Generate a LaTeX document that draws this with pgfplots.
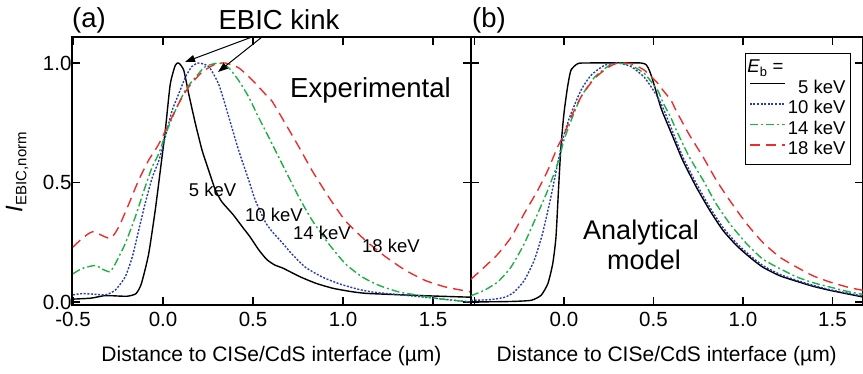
\documentclass[border=0pt]{standalone}
\usepackage{fontspec}
\setmainfont{Liberation Sans}
\usepackage{pgfplots}
\pgfplotsset{compat=1.18}
\usetikzlibrary{arrows.meta}

\definecolor{cblue}{RGB}{40,60,170}
\definecolor{cgreen}{RGB}{30,175,70}
\definecolor{cred}{RGB}{235,45,45}
\newcommand{\lf}{\fontsize{18.5}{20}\selectfont}

\pgfplotsset{
  common/.style={
    scale only axis, height=268pt,
    ymin=-0.0126, ymax=1.1088,
    ytick={0,0.5,1},
    xtick={-0.5,0,0.5,1,1.5},
    tick align=inside,
    major tick length=8pt,
    axis line style={line width=1.2pt},
    tick style={line width=1.2pt, black},
    tick label style={font=\fontsize{20.5}{24}\selectfont},
    xticklabel style={yshift=-4pt},
    yticklabel style={xshift=3pt},
    xlabel={Distance to CISe/CdS interface (µm)},
    xlabel style={font=\fontsize{21}{24}\selectfont, at={(axis description cs:0.5,0)}, anchor=center, yshift=-51pt},
    clip=true,
  },
  s5/.style={black, line width=1.4pt, smooth, tension=0.35},
  s10/.style={cblue, line width=1.4pt, dash pattern=on 2pt off 1.6pt, smooth, tension=0.35},
  s14/.style={cgreen, line width=1.4pt, dash pattern=on 8pt off 3pt on 2pt off 3pt, smooth, tension=0.35},
  s18/.style={cred, line width=1.4pt, dash pattern=on 10pt off 6pt, smooth, tension=0.35},
}

\begin{document}
\begin{tikzpicture}
\path[use as bounding box] (0pt,0pt) rectangle (863pt,374pt);

% ---------------- Panel (a) ----------------
\begin{axis}[common,
  at={(72pt,69pt)}, anchor=south west, width=399pt,
  xmin=-0.5056, xmax=1.711,
  xticklabels={-0.5,0.0,0.5,1.0,1.5},
  yticklabels={0.0,0.5,1.0},
]
\addplot[s5] coordinates {
(-0.5,0.012) (-0.4,0.016) (-0.33,0.026) (-0.28,0.026) (-0.2,0.024) (-0.15,0.035) (-0.12,0.077) (-0.08,0.20) (-0.043,0.385) (-0.015,0.55) (0.013,0.72) (0.04,0.91) (0.068,0.99) (0.087,1.0) (0.115,0.97) (0.143,0.87) (0.18,0.746) (0.217,0.635) (0.254,0.55) (0.29,0.47) (0.326,0.42) (0.39,0.365) (0.44,0.315) (0.483,0.273) (0.53,0.22) (0.576,0.178) (0.62,0.155) (0.668,0.141) (0.76,0.106) (0.85,0.078) (0.946,0.057) (1.05,0.043) (1.13,0.036) (1.32,0.03) (1.5,0.025) (1.71,0.02)
};
\addplot[s10] coordinates {
(-0.5,0.03) (-0.45,0.035) (-0.39,0.033) (-0.32,0.03) (-0.265,0.05) (-0.21,0.105) (-0.17,0.19) (-0.135,0.30) (-0.1,0.41) (-0.06,0.52) (-0.024,0.59) (0.013,0.69) (0.05,0.80) (0.087,0.87) (0.124,0.94) (0.16,0.985) (0.198,1.0) (0.254,0.985) (0.31,0.91) (0.365,0.775) (0.42,0.635) (0.476,0.51) (0.513,0.425) (0.568,0.335) (0.606,0.295) (0.66,0.25) (0.717,0.20) (0.79,0.146) (0.883,0.105) (0.976,0.077) (1.07,0.056) (1.16,0.042) (1.346,0.028) (1.53,0.014) (1.71,0.0)
};
\addplot[s14] coordinates {
(-0.5,0.118) (-0.45,0.14) (-0.376,0.153) (-0.33,0.135) (-0.294,0.127) (-0.265,0.16) (-0.21,0.244) (-0.154,0.356) (-0.1,0.48) (-0.06,0.565) (-0.024,0.62) (0.013,0.70) (0.068,0.80) (0.124,0.886) (0.18,0.94) (0.235,0.985) (0.31,1.0) (0.365,0.98) (0.42,0.927) (0.476,0.858) (0.53,0.774) (0.587,0.69) (0.68,0.55) (0.754,0.44) (0.83,0.34) (0.92,0.244) (1.013,0.16) (1.106,0.105) (1.198,0.07) (1.31,0.042) (1.42,0.028) (1.57,0.01) (1.71,0.0)
};
\addplot[s18] coordinates {
(-0.5,0.23) (-0.45,0.265) (-0.39,0.294) (-0.294,0.266) (-0.246,0.314) (-0.19,0.41) (-0.135,0.51) (-0.08,0.593) (-0.024,0.66) (0.032,0.746) (0.087,0.83) (0.143,0.90) (0.217,0.962) (0.29,0.995) (0.346,1.0) (0.42,0.98) (0.494,0.93) (0.568,0.87) (0.606,0.84) (0.68,0.746) (0.754,0.65) (0.828,0.55) (0.92,0.44) (1.013,0.34) (1.124,0.258) (1.235,0.19) (1.346,0.133) (1.457,0.09) (1.568,0.063) (1.71,0.042)
};
\end{axis}

% ---------------- Panel (b) ----------------
\begin{axis}[common,
  at={(471pt,69pt)}, anchor=south west, width=391.5pt,
  xmin=-0.5196, xmax=1.668,
  xticklabels={,0.0,0.5,1.0,1.5},
  yticklabels={},
  legend cell align=left,
  legend style={at={(rel axis cs:0.700,0.940)}, anchor=north west,
    draw=black, line width=1pt, inner xsep=3.5pt, inner ysep=4pt,
    row sep=0pt,
    nodes={font=\lf, inner sep=1.5pt, text height=13.5pt, text depth=4pt}},
  legend image code/.code={\draw[#1] (0pt,5pt) -- (35pt,5pt);},
]
\addlegendimage{empty legend}
\addlegendentry{\hspace*{-41pt}\lf\textit{E}\textsubscript{b} =\rule[-7pt]{0pt}{7pt}}
\addplot[s5] coordinates {
(-0.52,0.0) (-0.3,0.002) (-0.184,0.007) (-0.128,0.028) (-0.09,0.077) (-0.063,0.16) (-0.045,0.27) (-0.03,0.48) (-0.017,0.65) (0.0,0.79) (0.02,0.90) (0.039,0.97) (0.076,0.997) (0.12,1.0) (0.43,1.0) (0.47,0.98) (0.495,0.93) (0.54,0.816) (0.553,0.79) (0.609,0.69) (0.665,0.59) (0.74,0.48) (0.814,0.384) (0.888,0.30) (0.963,0.237) (1.037,0.188) (1.11,0.146) (1.205,0.11) (1.298,0.087) (1.39,0.066) (1.484,0.049) (1.596,0.032) (1.67,0.021)
};
\addlegendentry{\makebox[58.5pt][r]{\lf 5 keV}}
\addplot[s10] coordinates {
(-0.52,0.007) (-0.41,0.01) (-0.33,0.02) (-0.278,0.042) (-0.222,0.09) (-0.166,0.175) (-0.12,0.286) (-0.073,0.44) (-0.035,0.58) (0.0,0.70) (0.04,0.79) (0.095,0.886) (0.15,0.948) (0.225,0.99) (0.30,1.0) (0.374,0.985) (0.449,0.94) (0.523,0.858) (0.56,0.8) (0.598,0.73) (0.665,0.605) (0.74,0.495) (0.814,0.397) (0.888,0.312) (0.963,0.247) (1.037,0.196) (1.11,0.153) (1.205,0.116) (1.298,0.091) (1.39,0.07) (1.484,0.052) (1.596,0.035) (1.67,0.025)
};
\addlegendentry{\makebox[58.5pt][r]{\lf 10 keV}}
\addplot[s14] coordinates {
(-0.52,0.026) (-0.445,0.049) (-0.37,0.084) (-0.296,0.146) (-0.222,0.244) (-0.147,0.37) (-0.091,0.467) (-0.035,0.58) (0.0,0.677) (0.04,0.76) (0.095,0.858) (0.17,0.94) (0.244,0.985) (0.30,1.0) (0.374,0.99) (0.449,0.956) (0.523,0.886) (0.553,0.835) (0.598,0.77) (0.627,0.72) (0.70,0.607) (0.777,0.51) (0.851,0.41) (0.926,0.328) (1.02,0.244) (1.11,0.18) (1.205,0.14) (1.3,0.105) (1.39,0.081) (1.484,0.063) (1.596,0.042) (1.67,0.032)
};
\addlegendentry{\makebox[58.5pt][r]{\lf 14 keV}}
\addplot[s18] coordinates {
(-0.52,0.095) (-0.445,0.146) (-0.37,0.20) (-0.296,0.27) (-0.222,0.37) (-0.147,0.467) (-0.091,0.55) (-0.035,0.65) (0.0,0.70) (0.04,0.774) (0.095,0.858) (0.17,0.935) (0.244,0.98) (0.30,1.0) (0.374,0.997) (0.449,0.97) (0.523,0.916) (0.553,0.886) (0.598,0.844) (0.627,0.80) (0.70,0.70) (0.777,0.607) (0.851,0.51) (0.926,0.425) (1.02,0.328) (1.11,0.25) (1.205,0.188) (1.3,0.146) (1.39,0.11) (1.484,0.084) (1.596,0.06) (1.67,0.049)
};
\addlegendentry{\makebox[58.5pt][r]{\lf 18 keV}}
\end{axis}

% ---------------- Annotations ----------------
\begin{scope}[every node/.style={inner sep=0pt}]
\node[anchor=base west, font=\fontsize{27.5}{30}\selectfont] at (72pt,346pt) {(a)};
\node[anchor=base west, font=\fontsize{27.5}{30}\selectfont] at (472pt,346pt) {(b)};
\node[anchor=base, font=\fontsize{27.5}{30}\selectfont] at (279pt,344pt) {EBIC kink};
\node[anchor=base west, font=\fontsize{27.5}{30}\selectfont] at (290pt,276pt) {Experimental};
\node[anchor=base, font=\fontsize{27}{30}\selectfont] at (641pt,134.7pt) {Analytical};
\node[anchor=base, font=\fontsize{27}{30}\selectfont] at (644pt,104pt) {model};
\node[anchor=base west, font=\lf] at (188.7pt,177pt) {5 keV};
\node[anchor=base west, font=\lf] at (245pt,152pt) {10 keV};
\node[anchor=base west, font=\lf] at (293pt,134pt) {14 keV};
\node[anchor=base west, font=\lf] at (362pt,121pt) {18 keV};
\node[rotate=90, anchor=center] at (17pt,202pt) {{\fontsize{24}{28}\selectfont\textit{I}}{\fontsize{15}{18}\selectfont\raisebox{-4pt}{EBIC,norm}}};
\end{scope}
\draw[line width=1pt, -{Triangle[length=10pt,width=7pt]}] (252pt,337pt) -- (185pt,312pt);
\draw[line width=1pt, -{Triangle[length=10pt,width=7pt]}] (262pt,337pt) -- (218pt,302pt);
\end{tikzpicture}
\end{document}
